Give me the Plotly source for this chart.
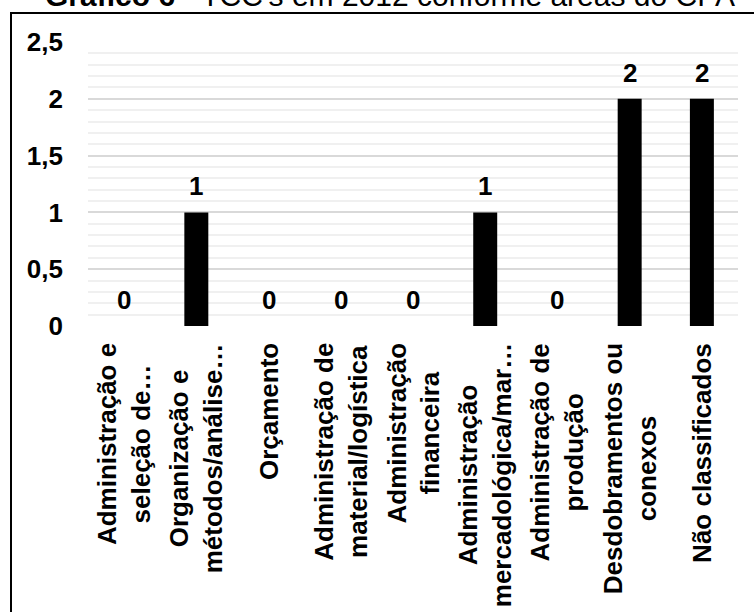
import plotly.graph_objects as go

# Áreas do CPA (rótulos já quebrados/abreviados como aparecem no eixo)
areas = [
    "Administração e<br>seleção de…",
    "Organização e<br>métodos/análise…",
    "Orçamento",
    "Administração de<br>material/logística",
    "Administração<br>financeira",
    "Administração<br>mercadológica/mar…",
    "Administração de<br>produção",
    "Desdobramentos ou<br>conexos",
    "Não classificados",
]
tccs_2012 = [0, 1, 0, 0, 0, 1, 0, 2, 2]

titulo_bold = "Gráfico 6"
titulo_resto = " - TCC's em 2012 conforme áreas do CPA"

FONT = "Liberation Sans, Arial, sans-serif"
W, H = 754, 612
ML, MR, MT, MB = 88, 16, 42, 286
PW, PH = W - ML - MR, H - MT - MB


def px_to_paper_x(px):
    return (px - ML) / PW


def px_to_paper_y(py):
    return (H - MB - py) / PH


fig = go.Figure(
    go.Bar(
        x=areas,
        y=tccs_2012,
        marker=dict(color="#000000", line=dict(width=0)),
        hoverinfo="skip",
    )
)

annotations = []
# valores acima das barras
for a, v in zip(areas, tccs_2012):
    annotations.append(dict(
        x=a, y=v, xref="x", yref="y", text=f"<b>{v}</b>", showarrow=False,
        yanchor="bottom", yshift=9, font=dict(family=FONT, size=26, color="#000"),
    ))
# rótulos das categorias, girados
for a in areas:
    annotations.append(dict(
        x=a, xref="x", y=px_to_paper_y(341), yref="paper", text=f"<b>{a}</b>",
        showarrow=False, textangle=-90, yanchor="top", xanchor="center",
        align="center", font=dict(family=FONT, size=26, color="#000"),
    ))

fig.update_layout(
    width=W, height=H,
    margin=dict(l=ML, r=MR, t=MT, b=MB),
    paper_bgcolor="#ffffff", plot_bgcolor="#ffffff",
    separators=",.",
    bargap=0.668,
    showlegend=False,
    # título encostado na borda superior da página
    title=dict(
        text=f"<b>{titulo_bold}</b>{titulo_resto}",
        xref="container", x=390 / W, xanchor="center",
        yref="container", y=1 - 6 / H, yanchor="bottom",
        font=dict(family=FONT, size=30, color="#000"),
        pad=dict(t=0, b=0, l=0, r=0),
    ),
    annotations=annotations,
    shapes=[dict(
        type="rect", xref="paper", yref="paper",
        x0=px_to_paper_x(11), x1=px_to_paper_x(760),
        y0=px_to_paper_y(620), y1=px_to_paper_y(13),
        line=dict(color="#000000", width=2), layer="below",
    )],
    xaxis=dict(
        showticklabels=False, showgrid=False, zeroline=False, showline=False,
        ticks="",
    ),
    yaxis=dict(
        range=[0, 2.5], tick0=0, dtick=0.5,
        showgrid=True, gridcolor="#d9d9d9", gridwidth=1.5,
        minor=dict(dtick=0.1, showgrid=True, gridcolor="#f0f0f0", gridwidth=1.5),
        zeroline=False, showline=False, ticks="",
        ticklabelstandoff=24,
        tickfont=dict(family=FONT, size=26, color="#000", weight="bold"),
    ),
)

fig.write_html("out.html")
